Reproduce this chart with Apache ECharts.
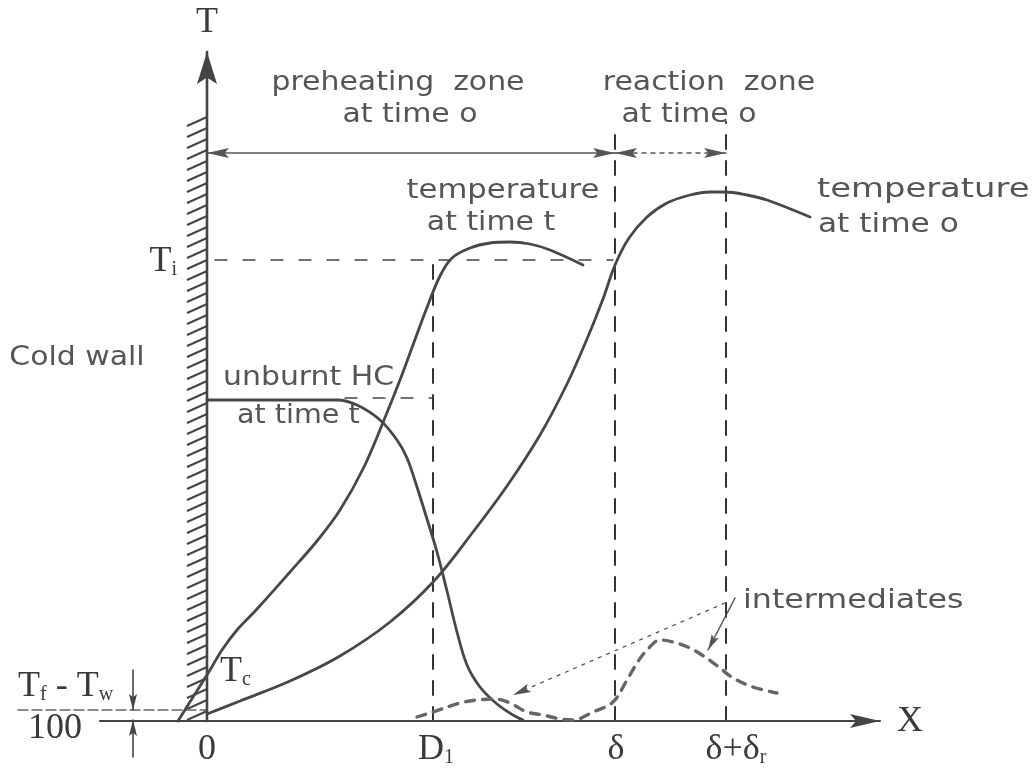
<!DOCTYPE html>
<html>
<head>
<meta charset="utf-8">
<title>Cold wall quenching</title>
<script src="https://cdn.jsdelivr.net/npm/echarts@6/dist/echarts.min.js"></script>
<style>
  html, body { margin: 0; padding: 0; background: #fff; }
  #chart { width: 1032px; height: 771px; }
</style>
</head>
<body>
<div id="chart"></div>
<script>
// schematic units: x = distance from the wall, y = temperature / concentration
// (0,0 is where the wall meets the x axis)

// temperature at time t
const tempAtTimeT = [
  [-2.9, 0], [-1.2, 2.7], [0.3, 5.1], [1.5, 7.1], [3.0, 9.1], [5.0, 11.2], [8.3, 14.9], [11.0, 18.0],
  [13.3, 21.1], [15.7, 25.4], [17.7, 30.1], [19.3, 34.1], [20.6, 37.6], [21.9, 41.1], [23.3, 44.5],
  [24.5, 46.3], [26.3, 47.3], [28.3, 47.8], [30.3, 47.9], [32.3, 47.7], [34.3, 47.1], [37.6, 45.6]
];
// temperature at time 0
const tempAtTime0 = [
  [0, 0.7], [3.3, 2.0], [8.3, 4.0], [13.3, 6.5], [18.3, 9.9], [22.7, 14.0], [26.6, 18.9], [30.0, 23.5],
  [33.3, 28.6], [36.0, 33.7], [38.0, 38.2], [39.6, 42.2], [40.8, 45.6], [42.2, 48.3], [44.0, 50.4],
  [46.0, 51.8], [48.3, 52.6], [50.3, 52.9], [51.8, 52.9], [54.0, 52.6], [56.0, 52.1], [60.3, 50.4]
];
// unburnt HC at time t
const unburntHC = [
  [0, 32.1], [9.3, 32.1], [13.0, 32.1], [15.0, 31.6], [17.3, 30.1], [19.0, 28.1], [20.0, 26.3],
  [21.0, 23.4], [22.0, 20.2], [23.0, 16.9], [24.0, 13.0], [25.0, 8.9], [26.0, 5.6], [27.3, 3.4],
  [29.0, 1.7], [30.6, 0.6], [31.6, 0.1]
];
// intermediates
const intermediates = [
  [21.0, 0.4], [22.6, 0.9], [25.3, 1.8], [27.0, 2.1], [28.8, 2.2], [30.3, 1.8], [32.0, 0.9], [33.6, 0.6],
  [35.3, 0.2], [36.6, 0.1], [38.6, 0.9], [40.6, 1.9], [42.0, 4.1], [43.0, 5.8], [44.0, 7.1], [45.3, 8.1],
  [46.6, 7.9], [48.3, 7.3], [49.8, 6.4], [51.3, 5.3], [52.6, 4.3], [54.6, 3.4], [57.0, 2.8]
];

// marks on the x axis: 0, D1, delta, delta + delta_r
const xMarkValues = [0, 22.6, 40.8, 51.9];
const xMarkLabels = ['{m|0}', '{m|D}{s|1}', '{m|δ}', '{m|δ+δ}{s|r}'];

// levels
const levelTi = 46.1;
const levelHC = 32.3;
const levelTfTw = 1.1;
const zoneArrowLevel = 56.8;
const wallTop = 60.4;

// reference lines [x1, y1, x2, y2]
const dashedVerticals = [[22.6, 0, 22.6, 45.8], [40.8, 0, 40.8, 59.1], [51.9, 0, 51.9, 59.9]];
const dashedLevels = [[0.8, levelTi, 40.6, levelTi], [13.8, levelHC, 22.6, levelHC]];
const xAxisLine = [[-10.7, 0, 67.3, 0]];
const yAxisLine = [[0, 0, 0, 66.9]];
const preheatZone = [[0, zoneArrowLevel, 40.8, zoneArrowLevel]];
const reactionZone = [[40.8, zoneArrowLevel, 51.9, zoneArrowLevel]];
const leaderDotted = [[51.8, 11.8, 30.6, 2.6]];
const leaderShort = [[52.8, 12.3, 50.1, 7.1]];
const tfTwLevel = [[-18.9, levelTfTw, 0, levelTfTw]];
const tfTwArrows = [[-7.4, 5.1, -7.4, levelTfTw], [-7.4, -3.6, -7.4, 0.1]];

// lettering
const sansText = ['preheating  zone', 'at time o', 'reaction  zone', 'at time o', 'temperature', 'at time t',
  'temperature', 'at time o', 'Cold wall', 'unburnt HC', 'at time t', 'intermediates'];
const sansPos = [[19.1, 63.8], [20.3, 60.6], [50.2, 63.8], [48.2, 60.6], [29.6, 53.0], [28.4, 49.8],
  [61.0, 53.1], [61.1, 49.6], [-13.0, 36.3], [1.6, 34.3], [3.0, 30.5], [53.6, 12.0]];
const serifText = ['{m|T}', '{m|X}', '{m|T}{s|i}', '{m|T}{s|c}', '{m|T}{s|f}{m| - T}{s|w}', '{m|100}'];
const serifPos = [[0, 69.8], [70.3, -0.1], [-3.0, 45.9], [1.3, 4.9], [-18.9, 3.4], [-15.2, -0.8]];

// ---------- styles ----------
const ink = '#474747';
const sansAlign = ['center', 'center', 'center', 'center', 'center', 'center', 'left', 'left', 'center', 'left', 'left', 'left'];
const sansWidth = [1.15, 1.15, 1.15, 1.15, 1.18, 1.15, 1.3, 1.2, 1.15, 1.15, 1.1, 1.22];
const serifAlign = ['center', 'center', 'right', 'left', 'left', 'center'];
const xMarkShift = [0, 0.3, 0.1, 1.0];
const serifRich = {
  m: { fontFamily: 'Liberation Serif', fontSize: 36, fill: '#3a3a3a' },
  s: { fontFamily: 'Liberation Serif', fontSize: 20, fill: '#3a3a3a', verticalAlign: 'bottom' }
};

function arrowHead(tip, from, s) {
  const dx = tip[0] - from[0], dy = tip[1] - from[1];
  const len = Math.sqrt(dx * dx + dy * dy) || 1;
  const ux = dx / len, uy = dy / len;
  const bx = tip[0] - ux * s.headLen, by = tip[1] - uy * s.headLen;
  const nx = -uy * s.headWidth / 2, ny = ux * s.headWidth / 2;
  const kx = tip[0] - ux * s.headLen * 0.8, ky = tip[1] - uy * s.headLen * 0.8;
  return {
    type: 'polygon',
    shape: { points: [[tip[0], tip[1]], [bx + nx, by + ny], [kx, ky], [bx - nx, by - ny]] },
    style: { fill: s.color }
  };
}

// straight segments, optionally with arrow heads
function segmentSeries(name, segs, s) {
  return {
    type: 'custom',
    name: name,
    coordinateSystem: 'cartesian2d',
    silent: true,
    clip: false,
    data: segs,
    encode: { x: [0, 2], y: [1, 3] },
    renderItem: function (params, api) {
      const a = api.coord([api.value(0), api.value(1)]);
      const b = api.coord([api.value(2), api.value(3)]);
      const children = [{
        type: 'line',
        shape: { x1: a[0], y1: a[1], x2: b[0], y2: b[1] },
        style: { stroke: s.color, lineWidth: s.width, lineDash: s.dash || null, lineCap: 'round' }
      }];
      if (s.head === 'end' || s.head === 'both') children.push(arrowHead(b, a, s));
      if (s.head === 'both') children.push(arrowHead(a, b, s));
      return { type: 'group', children: children };
    }
  };
}

function curveSeries(name, data, width, dash, color) {
  return {
    type: 'line',
    name: name,
    data: data,
    smooth: 0.35,
    showSymbol: false,
    silent: true,
    lineStyle: { color: color || ink, width: width, type: dash || 'solid', cap: 'round' }
  };
}

function textSeries(name, pos, texts, aligns, styleFn) {
  return {
    type: 'custom',
    name: name,
    coordinateSystem: 'cartesian2d',
    silent: true,
    clip: false,
    data: pos,
    renderItem: function (params, api) {
      const p = api.coord([api.value(0), api.value(1)]);
      return styleFn(p, texts[params.dataIndex], aligns[params.dataIndex], params.dataIndex);
    }
  };
}

const sansStyle = function (p, text, align, i) {
  return {
    type: 'text', x: p[0], y: p[1], scaleX: sansWidth[i],
    style: { text: text, fill: '#555', fontFamily: 'DejaVu Sans', fontSize: 26, align: align, verticalAlign: 'middle' }
  };
};
const serifStyle = function (p, text, align) {
  return {
    type: 'text', x: p[0], y: p[1],
    style: { text: text, align: align, verticalAlign: 'middle', rich: serifRich }
  };
};

const chart = echarts.init(document.getElementById('chart'));
chart.setOption({
  backgroundColor: '#fff',
  animation: false,
  grid: { left: 0, right: 0, top: 0, bottom: 0 },
  xAxis: { type: 'value', min: -20.7, max: 82.5, show: false },
  yAxis: { type: 'value', min: -5, max: 72.1, show: false },
  series: [
    // hatched cold wall
    {
      type: 'custom',
      name: 'wall',
      coordinateSystem: 'cartesian2d',
      silent: true,
      data: [[0, wallTop]],
      renderItem: function (params, api) {
        const children = [];
        for (let y = 1.0; y <= api.value(1) + 0.01; y += 1.1) {
          const p = api.coord([api.value(0), y]);
          children.push({
            type: 'line',
            shape: { x1: p[0] - 20, y1: p[1] + 9, x2: p[0], y2: p[1] },
            style: { stroke: '#444', lineWidth: 2 }
          });
        }
        return { type: 'group', children: children };
      }
    },
    segmentSeries('dashed verticals', dashedVerticals, { color: '#333', width: 2, dash: [14, 12] }),
    segmentSeries('dashed levels', dashedLevels, { color: '#444', width: 1.4, dash: [12, 16] }),
    segmentSeries('Tf-Tw level', tfTwLevel, { color: '#666', width: 1.4, dash: [10, 4] }),
    segmentSeries('Tf-Tw arrows', tfTwArrows, { color: '#444', width: 1.6, head: 'end', headLen: 16, headWidth: 8 }),
    segmentSeries('x axis', xAxisLine, { color: '#444', width: 2.2, head: 'end', headLen: 30, headWidth: 14 }),
    segmentSeries('y axis', yAxisLine, { color: '#444', width: 2.6, head: 'end', headLen: 32, headWidth: 20 }),
    segmentSeries('preheating zone', preheatZone, { color: '#555', width: 1.4, head: 'both', headLen: 22, headWidth: 10 }),
    segmentSeries('reaction zone', reactionZone, { color: '#555', width: 1.4, dash: [4, 5], head: 'both', headLen: 22, headWidth: 10 }),
    segmentSeries('leader dotted', leaderDotted, { color: '#555', width: 1.3, dash: [3, 6], head: 'end', headLen: 18, headWidth: 9 }),
    segmentSeries('leader short', leaderShort, { color: '#555', width: 1.5, head: 'end', headLen: 16, headWidth: 8 }),
    curveSeries('temperature at time t', tempAtTimeT, 2.8),
    curveSeries('temperature at time o', tempAtTime0, 2.8),
    curveSeries('unburnt HC at time t', unburntHC, 2.8),
    curveSeries('intermediates', intermediates, 3.4, [9, 8], '#666'),
    textSeries('lettering', sansPos, sansText, sansAlign, sansStyle),
    textSeries('symbols', serifPos, serifText, serifAlign, serifStyle),
    textSeries('x marks', xMarkValues.map(function (v, i) { return [v + xMarkShift[i], -2.9]; }),
      xMarkLabels, xMarkValues.map(function () { return 'center'; }), serifStyle)
  ]
});
</script>
</body>
</html>
